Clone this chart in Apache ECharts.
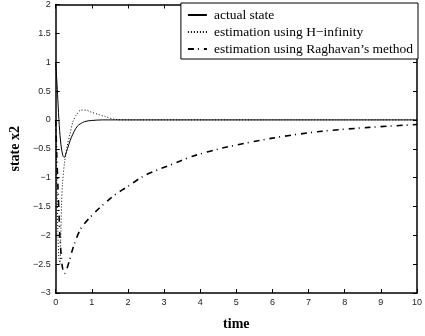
<!DOCTYPE html>
<html>
<head>
<meta charset="utf-8">
<script src="https://cdn.jsdelivr.net/npm/echarts@6/dist/echarts.min.js"></script>
<style>
  html, body { margin: 0; padding: 0; background: #fff; }
  #chart { width: 425px; height: 336px; }
</style>
</head>
<body>
<div id="chart"></div>
<script>
// values
const actualT = [0, 0.03, 0.06, 0.1, 0.15, 0.2, 0.24, 0.3, 0.43, 0.6, 0.8, 1.0, 1.3, 2, 10];
const actualY = [1.0, 0.7, 0.35, -0.1, -0.45, -0.62, -0.65, -0.55, -0.31, -0.11, -0.03, -0.01, 0, 0, 0];

const hinfT = [0, 0.03, 0.06, 0.09, 0.12, 0.14, 0.16, 0.19, 0.25, 0.32, 0.39, 0.48, 0.57, 0.7, 0.84, 0.96, 1.15, 1.36, 1.63, 2, 10];
const hinfY = [0, -1.0, -1.9, -2.4, -2.5, -2.1, -1.5, -1.1, -0.71, -0.45, -0.26, -0.03, 0.085, 0.17, 0.17, 0.14, 0.1, 0.06, 0.01, 0, 0];

const ragT = [0, 0.03, 0.06, 0.09, 0.12, 0.16, 0.2, 0.25, 0.3, 0.38, 0.51, 0.7, 0.92, 1.19, 1.46, 1.68, 1.98, 2.44, 2.89, 3.34, 3.79, 4.6, 5.96, 7.32, 8.67, 10];
const ragY = [0, -0.6, -1.1, -1.6, -2.05, -2.4, -2.6, -2.66, -2.6, -2.44, -2.16, -1.88, -1.71, -1.54, -1.39, -1.28, -1.16, -0.97, -0.85, -0.74, -0.63, -0.49, -0.32, -0.2, -0.13, -0.08];

const seriesNames = ['actual state', 'estimation using H\u2212infinity', 'estimation using Raghavan\u2019s method'];

const zip = (ts, ys) => ts.map((t, i) => [t, ys[i]]);

const chart = echarts.init(document.getElementById('chart'));

const tickFont = { color: '#222', fontSize: 9, fontFamily: 'Liberation Sans, Arial, sans-serif' };
const axisLine = { show: true, onZero: false, lineStyle: { color: '#000', width: 1.5 } };
const axisTick = { inside: true, length: 4, lineStyle: { color: '#000' } };
const serif = 'Liberation Serif, Times New Roman, serif';
const minus = v => String(v).replace('-', '\u2212');

chart.setOption({
  animation: false,
  grid: { left: 50, right: 4, top: 3, bottom: 40 },
  legend: {
    right: 7,
    top: 3,
    orient: 'vertical',
    backgroundColor: '#fff',
    borderColor: '#000',
    borderWidth: 1,
    borderRadius: 0,
    padding: [5, 5, 3, 6],
    itemWidth: 19,
    itemHeight: 12,
    itemGap: 3,
    itemStyle: { opacity: 0 },
    textStyle: { fontFamily: serif, fontSize: 13.5, color: '#000', padding: [0, 0, 0, 2] },
    data: seriesNames
  },
  xAxis: [
    {
      type: 'value', min: 0, max: 10, interval: 1,
      name: 'time', nameLocation: 'middle', nameGap: 24,
      nameTextStyle: { fontFamily: serif, fontWeight: 'bold', fontSize: 14, color: '#000' },
      axisLine, axisTick,
      axisLabel: { ...tickFont, margin: 5 },
      splitLine: { show: false }
    },
    {
      type: 'value', min: 0, max: 10, interval: 1, position: 'top',
      axisLine, axisTick,
      axisLabel: { show: false }, splitLine: { show: false }
    }
  ],
  yAxis: [
    {
      type: 'value', min: -3, max: 2, interval: 0.5,
      name: 'state x2', nameLocation: 'middle', nameGap: 30,
      nameTextStyle: { fontFamily: serif, fontWeight: 'bold', fontSize: 14, color: '#000' },
      axisLine, axisTick,
      axisLabel: { ...tickFont, margin: 5, formatter: minus },
      splitLine: { show: false }
    },
    {
      type: 'value', min: -3, max: 2, interval: 0.5, position: 'right',
      axisLine, axisTick,
      axisLabel: { show: false }, splitLine: { show: false }
    }
  ],
  series: [
    {
      name: seriesNames[0], type: 'line', symbol: 'none', smooth: 0.3, z: 3,
      lineStyle: { color: '#000', width: 1, type: 'solid' },
      itemStyle: { color: '#000' },
      data: zip(actualT, actualY)
    },
    {
      name: seriesNames[1], type: 'line', symbol: 'none', smooth: 0.3, z: 2,
      lineStyle: { color: '#000', width: 1, type: [1, 2] },
      itemStyle: { color: '#000' },
      data: zip(hinfT, hinfY)
    },
    {
      name: seriesNames[2], type: 'line', symbol: 'none', smooth: 0.3, z: 2,
      lineStyle: { color: '#000', width: 1.6, type: [6, 4, 1, 5] },
      itemStyle: { color: '#000' },
      data: zip(ragT, ragY)
    }
  ]
});
</script>
</body>
</html>
